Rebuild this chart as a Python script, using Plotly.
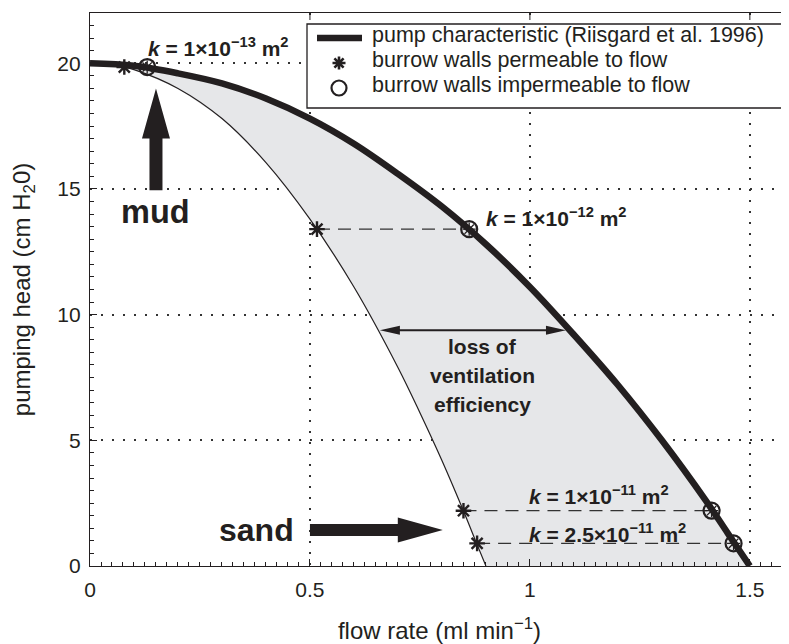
import math
import plotly.graph_objects as go

# ---------------- data ----------------
pump_x = [0, 0.1, 0.2, 0.3, 0.4, 0.5, 0.6, 0.7, 0.8, 0.9, 1.0, 1.1, 1.2, 1.3, 1.4, 1.45, 1.5]
pump_y = [20, 19.9, 19.6, 19.2, 18.6, 17.8, 16.8, 15.6, 14.3, 12.8, 11.1, 9.2, 7.2, 5.0, 2.6, 1.3, 0]

perm_x = [0.075, 0.1, 0.2, 0.3, 0.4, 0.5, 0.6, 0.7, 0.75, 0.8, 0.85, 0.88, 0.9]
perm_y = [19.85, 19.75, 19.0, 17.8, 16.05, 13.8, 11.1, 7.9, 6.1, 4.2, 2.15, 0.85, 0.0]

k_head = [19.85, 13.4, 2.2, 0.9]          # pumping head at each permeability
star_x = [0.078, 0.516, 0.849, 0.88]       # burrow walls permeable
circ_x = [0.13, 0.862, 1.413, 1.463]       # burrow walls impermeable
dashed_idx = [1, 2, 3]

x_ticks = [0, 0.5, 1, 1.5]
x_tick_text = ["0", "0.5", "1", "1.5"]
y_ticks = [0, 5, 10, 15, 20]
y_tick_text = ["0", "5", "10", "15", "20"]

legend_labels = ["pump characteristic (Riisgard et al. 1996)",
                 "burrow walls permeable to flow",
                 "burrow walls impermeable to flow"]

# ---------------- layout geometry ----------------
PAGE_OFF = 8                       # default body margin of the html page
W, H = 781, 636
ML, MR, MT, MB = 82, 0, 5, 78
XR = [0, 1.589]
YR = [0, 22]
plot_w = W - ML - MR
plot_h = H - MT - MB
ppx = plot_w / (XR[1] - XR[0])
ppy = plot_h / (YR[1] - YR[0])
PL = PAGE_OFF + ML                 # plot-area left, page px
PB = PAGE_OFF + MT + plot_h        # plot-area bottom, page px


def paper_x(px):
    return (px - PL) / plot_w


def paper_y(py):
    return (PB - py) / plot_h


INK = "#231f20"
FONT = "Arial, Liberation Sans, Helvetica, sans-serif"

# arrow decorations (data positions, pixel sizes)
mud_arrow = dict(tail=(0.15, 14.95), tip=(0.15, 19.0), shaft=13, head_w=28, head_len=50)
sand_arrow = dict(tail=(0.5, 1.43), tip=(0.802, 1.43), shaft=12, head_w=25, head_len=45)
loss_arrow = dict(tail=(0.659, 9.38), tip=(1.082, 9.38), shaft=2, head_w=9, head_len=20)


def arrow_poly(tail, tip, shaft, head_w, head_len, double=False):
    X0, Y0 = tail[0] * ppx, tail[1] * ppy
    X1, Y1 = tip[0] * ppx, tip[1] * ppy
    L = math.hypot(X1 - X0, Y1 - Y0)
    ux, uy = (X1 - X0) / L, (Y1 - Y0) / L
    nx, ny = -uy, ux
    s, h = shaft / 2, head_w / 2
    bx, by = X1 - ux * head_len, Y1 - uy * head_len
    if double:
        ax, ay = X0 + ux * head_len, Y0 + uy * head_len
        pts = [(X0, Y0), (ax + nx * h, ay + ny * h), (ax + nx * s, ay + ny * s),
               (bx + nx * s, by + ny * s), (bx + nx * h, by + ny * h), (X1, Y1),
               (bx - nx * h, by - ny * h), (bx - nx * s, by - ny * s),
               (ax - nx * s, ay - ny * s), (ax - nx * h, ay - ny * h), (X0, Y0)]
    else:
        pts = [(X0 + nx * s, Y0 + ny * s), (bx + nx * s, by + ny * s), (bx + nx * h, by + ny * h),
               (X1, Y1), (bx - nx * h, by - ny * h), (bx - nx * s, by - ny * s),
               (X0 - nx * s, Y0 - ny * s), (X0 + nx * s, Y0 + ny * s)]
    return [p[0] / ppx for p in pts], [p[1] / ppy for p in pts]


fig = go.Figure()

# shaded region between the two curves
fill_x = perm_x + [x for x in reversed(pump_x) if x >= 0.1]
fill_y = perm_y + [y for x, y in zip(reversed(pump_x), reversed(pump_y)) if x >= 0.1]
fig.add_trace(go.Scatter(x=fill_x, y=fill_y, mode="lines", fill="toself",
                         fillcolor="#e6e7e9", line=dict(width=0), hoverinfo="skip"))

# thin curve (permeable walls)
fig.add_trace(go.Scatter(x=perm_x, y=perm_y, mode="lines",
                         line=dict(color=INK, width=1.2, shape="spline")))

# dashed connectors
for i in dashed_idx:
    fig.add_trace(go.Scatter(x=[star_x[i], circ_x[i]], y=[k_head[i], k_head[i]], mode="lines",
                             line=dict(color="#333333", width=1.2, dash="13px,8px")))

# pump characteristic
fig.add_trace(go.Scatter(x=pump_x, y=pump_y, mode="lines", name=legend_labels[0],
                         line=dict(color=INK, width=6.5, shape="spline")))

# permeable (asterisks)
fig.add_trace(go.Scatter(x=star_x, y=k_head, mode="markers", name=legend_labels[1],
                         marker=dict(symbol="asterisk-open", size=13, line=dict(color=INK, width=2.4), color=INK)))

# impermeable (circles with the asterisk inside)
fig.add_trace(go.Scatter(x=circ_x, y=k_head, mode="markers", name=legend_labels[2],
                         marker=dict(symbol="circle-open", size=16, line=dict(color=INK, width=2.2), color=INK)))
fig.add_trace(go.Scatter(x=circ_x, y=k_head, mode="markers",
                         marker=dict(symbol="asterisk-open", size=11, line=dict(color=INK, width=1.3), color=INK)))

# arrows
for spec, dbl in [(mud_arrow, False), (sand_arrow, False), (loss_arrow, True)]:
    ax_, ay_ = arrow_poly(spec["tail"], spec["tip"], spec["shaft"], spec["head_w"], spec["head_len"], double=dbl)
    fig.add_trace(go.Scatter(x=ax_, y=ay_, mode="lines", fill="toself", fillcolor=INK,
                             line=dict(width=0, color=INK), hoverinfo="skip"))

annots = [
    dict(x=0.293, y=20.65, text="<b><i>k</i> = 1×10<sup>−13</sup> m<sup>2</sup></b>", size=21),
    dict(x=1.061, y=13.9, text="<b><i>k</i> = 1×10<sup>−12</sup> m<sup>2</sup></b>", size=21),
    dict(x=1.157, y=2.82, text="<b><i>k</i> = 1×10<sup>−11</sup> m<sup>2</sup></b>", size=21),
    dict(x=1.176, y=1.31, text="<b><i>k</i> = 2.5×10<sup>−11</sup> m<sup>2</sup></b>", size=21),
    dict(x=0.892, y=8.75, text="<b>loss of</b>", size=21),
    dict(x=0.892, y=7.56, text="<b>ventilation</b>", size=21),
    dict(x=0.892, y=6.43, text="<b>efficiency</b>", size=21),
    dict(x=0.15, y=14.07, text="<b>mud</b>", size=32.5),
    dict(x=0.378, y=1.45, text="<b>sand</b>", size=32),
]
for a in annots:
    fig.add_annotation(x=a["x"], y=a["y"], text=a["text"], showarrow=False, xanchor="center",
                       yanchor="middle", font=dict(family=FONT, size=a["size"], color=INK))

# ---------------- hand-drawn legend box (page px positions) ----------------
LEG_BOX = (307, 24, 783, 108)
LEG_TEXT_X = 370
LEG_ROW_Y = [35, 60, 85]
LEG_SYM_X = 339

shapes = [
    dict(type="rect", xref="paper", yref="paper", x0=paper_x(LEG_BOX[0]), x1=paper_x(LEG_BOX[2]),
         y0=paper_y(LEG_BOX[3]), y1=paper_y(LEG_BOX[1]), line=dict(color=INK, width=1.3),
         fillcolor="white", layer="above"),
    dict(type="line", xref="paper", yref="paper", x0=paper_x(317), x1=paper_x(362),
         y0=paper_y(LEG_ROW_Y[0] + 3), y1=paper_y(LEG_ROW_Y[0] + 3), line=dict(color=INK, width=6.5)),
    dict(type="path", xref="paper", yref="paper", xsizemode="pixel", ysizemode="pixel",
         xanchor=paper_x(LEG_SYM_X), yanchor=paper_y(LEG_ROW_Y[1] + 3),
         path="M-6.5,0L6.5,0M0,-6.5L0,6.5M-4.6,-4.6L4.6,4.6M-4.6,4.6L4.6,-4.6",
         line=dict(color=INK, width=2.6)),
    dict(type="circle", xref="paper", yref="paper", xsizemode="pixel", ysizemode="pixel",
         xanchor=paper_x(LEG_SYM_X), yanchor=paper_y(LEG_ROW_Y[2] + 3),
         x0=-7.5, x1=7.5, y0=-7.5, y1=7.5, line=dict(color=INK, width=2.2)),
]
# major ticks along the top frame (the top frame carries no minor ticks)
for tv in x_ticks[1:]:
    shapes.append(dict(type="line", xref="x", yref="paper", ysizemode="pixel", yanchor=1,
                       x0=tv, x1=tv, y0=-7, y1=0, line=dict(color=INK, width=1)))

for lbl, ry in zip(legend_labels, LEG_ROW_Y):
    fig.add_annotation(xref="paper", yref="paper", x=paper_x(LEG_TEXT_X), y=paper_y(ry), text=lbl,
                       showarrow=False, xanchor="left", yanchor="middle",
                       font=dict(family=FONT, size=21.5, color=INK))

axis_common = dict(
    ticks="inside", ticklen=7, tickwidth=1, tickcolor=INK,
    showline=True, linecolor=INK, linewidth=1.2,
    showgrid=True, gridcolor="#333333", griddash="2px,9px", gridwidth=1.5,
    zeroline=False, tickfont=dict(family=FONT, size=21, color=INK),
)

fig.update_layout(
    width=W, height=H,
    margin=dict(l=ML, r=MR, t=MT, b=MB, autoexpand=False),
    paper_bgcolor="white", plot_bgcolor="white",
    font=dict(family=FONT, color=INK),
    showlegend=False,
    shapes=shapes,
    xaxis=dict(range=XR, tickvals=x_ticks, ticktext=x_tick_text, mirror=True, ticklabelstandoff=5,
               minor=dict(dtick=0.025, ticks="inside", ticklen=3.5, tickcolor=INK, showgrid=False),
               title=dict(text="flow rate (ml min<sup>−1</sup>)", font=dict(family=FONT, size=24, color=INK),
                          standoff=27),
               **axis_common),
    yaxis=dict(range=YR, tickvals=y_ticks, ticktext=y_tick_text, mirror=False, ticklabelstandoff=4,
               minor=dict(dtick=0.5, ticks="inside", ticklen=3.5, tickcolor=INK, showgrid=False),
               title=dict(text="pumping head (cm H<sub>2</sub>0)", font=dict(family=FONT, size=24, color=INK),
                          standoff=24),
               **axis_common),
)

fig.write_html("out.html")
